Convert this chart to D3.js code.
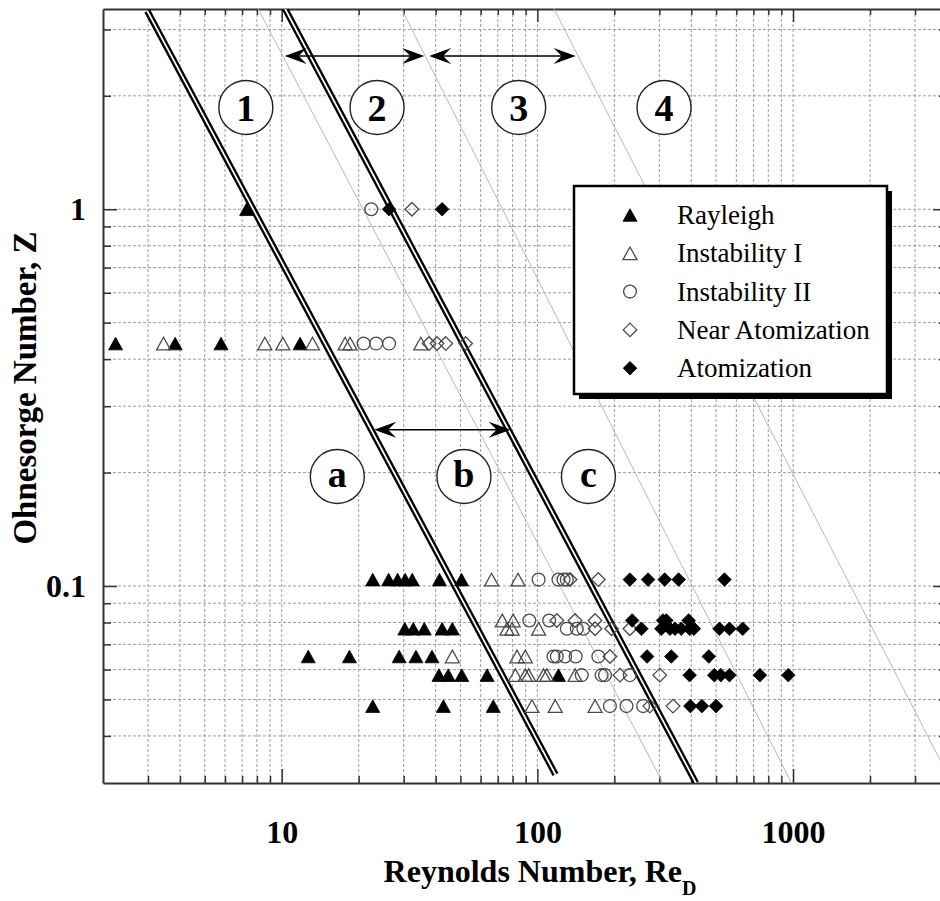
<!DOCTYPE html>
<html>
<head>
<meta charset="utf-8">
<script src="https://cdn.jsdelivr.net/npm/d3@7"></script>
<style>
  body { margin: 0; background: #fff; }
  svg { display: block; }
  text { font-family: "Liberation Serif", "Times New Roman", serif; }
</style>
</head>
<body>
<svg id="chart" width="940" height="901"></svg>
<script>
// ---- axis ranges ----
const reDomain = [2, 4000];
const zDomain = [0.03, 3.4];

// ---- observations: [Re_D, Z] ----
const rayleigh = [
  [7.29, 1.0],
  [2.24, 0.44], [3.83, 0.44], [5.79, 0.44], [11.8, 0.44],
  [22.7, 0.104], [26.2, 0.104], [28.4, 0.104], [30.4, 0.104], [32.4, 0.104], [41.4, 0.104], [50.5, 0.104],
  [30.3, 0.077], [32.7, 0.077], [36.1, 0.077], [42.4, 0.077], [46.5, 0.077],
  [12.7, 0.065], [18.4, 0.065], [28.8, 0.065], [33.5, 0.065], [38.7, 0.065],
  [41.2, 0.058], [44.8, 0.058], [50.6, 0.058], [63.6, 0.058], [120.9, 0.058],
  [22.7, 0.048], [42.9, 0.048], [67.2, 0.048]
];
const instabilityI = [
  [3.45, 0.44], [8.59, 0.44], [10.1, 0.44], [13.2, 0.44], [17.7, 0.44], [18.5, 0.44], [35.0, 0.44],
  [66.2, 0.104], [84.0, 0.104],
  [72.9, 0.081], [80.4, 0.081],
  [76.0, 0.077], [79.6, 0.077], [101.1, 0.077],
  [46.5, 0.065], [83.2, 0.065], [89.7, 0.065],
  [82.0, 0.058], [89.7, 0.058], [92.4, 0.058], [105.7, 0.058], [108.9, 0.058], [140.4, 0.058],
  [95.2, 0.048], [117.4, 0.048], [168.1, 0.048]
];
const instabilityII = [
  [22.4, 1.0],
  [20.9, 0.44], [23.4, 0.44], [26.3, 0.44],
  [101.1, 0.104], [120.9, 0.104], [126.5, 0.104], [130.3, 0.104],
  [93.0, 0.081], [111.2, 0.081],
  [130.3, 0.077], [142.6, 0.077], [151.3, 0.077],
  [115.6, 0.065], [119.1, 0.065], [128.4, 0.065], [141.2, 0.065], [173.1, 0.065],
  [149.1, 0.058], [178.3, 0.058], [183.8, 0.058], [230.0, 0.058],
  [192.2, 0.048], [223.1, 0.048], [259.1, 0.048]
];
const nearAtomization = [
  [32.3, 1.0],
  [37.7, 0.44], [40.5, 0.44], [43.8, 0.44], [52.4, 0.44],
  [134.3, 0.104], [173.1, 0.104],
  [119.1, 0.081], [140.4, 0.081], [168.1, 0.081],
  [168.1, 0.077], [195.1, 0.077], [230.0, 0.077],
  [192.2, 0.065],
  [210.3, 0.058], [301.0, 0.058],
  [275.2, 0.048], [339.2, 0.048]
];
const atomization = [
  [26.3, 1.0], [42.4, 1.0],
  [230.0, 0.104], [271.0, 0.104], [314.8, 0.104], [356.9, 0.104], [539.1, 0.104],
  [234.8, 0.081], [310.0, 0.081], [319.4, 0.081], [390.4, 0.081],
  [255.2, 0.077], [305.3, 0.077], [330.1, 0.077], [345.3, 0.077], [365.3, 0.077], [393.9, 0.077],
  [409.3, 0.077], [515.5, 0.077], [563.8, 0.077], [635.3, 0.077],
  [268.6, 0.065], [333.9, 0.065], [468.3, 0.065],
  [393.9, 0.058], [491.8, 0.058], [521.5, 0.058], [563.8, 0.058], [741.9, 0.058], [957.9, 0.058],
  [396.7, 0.048], [439.8, 0.048], [499.9, 0.048]
];

// ---- regime boundaries (end points as [Re_D, Z]) ----
const transitionLines = [
  [[2.98, 3.36], [117.7, 0.0316]],
  [[10.27, 3.42], [417, 0.030]]
];
const guideLines = [
  [[8.06, 3.42], [310, 0.030]],
  [[29.3, 3.42], [985, 0.030]],
  [[115.6, 3.42], [4180, 0.030]]
];

// ---- annotations ----
const regimeArrows = [
  { z: 2.55, from: 10.27, to: 36.1 },
  { z: 2.55, from: 37.7, to: 141.2 },
  { z: 0.26, from: 23.0, to: 78.6 }
];
const regimeLabels = [
  { label: "1", re: 7.24, z: 1.863 },
  { label: "2", re: 23.6, z: 1.863 },
  { label: "3", re: 84.5, z: 1.863 },
  { label: "4", re: 312.9, z: 1.863 },
  { label: "a", re: 16.5, z: 0.1953 },
  { label: "b", re: 51.6, z: 0.1953 },
  { label: "c", re: 158.3, z: 0.1953 }
];

const seriesList = [
  { name: "Rayleigh", data: rayleigh, shape: "tri", filled: true },
  { name: "Instability I", data: instabilityI, shape: "tri", filled: false },
  { name: "Instability II", data: instabilityII, shape: "circle", filled: false },
  { name: "Near Atomization", data: nearAtomization, shape: "diamond", filled: false },
  { name: "Atomization", data: atomization, shape: "diamond", filled: true }
];

// ---- scales ----
const plot = { left: 103, right: 947, top: 9, bottom: 783 };
const x = d3.scaleLog().domain(reDomain).range([plot.left, plot.right]);
const y = d3.scaleLog().domain(zDomain).range([plot.bottom, plot.top]);

const isMajor = d => Math.abs(Math.log10(d) - Math.round(Math.log10(d))) < 1e-9;
const xTicks = x.ticks().filter(d => d > reDomain[0] * 1.0001 && d < reDomain[1] * 0.9999);
const yTicks = y.ticks().filter(d => d > zDomain[0] * 1.0001 && d < zDomain[1] * 0.9999);

const svg = d3.select("#chart");
svg.append("rect").attr("width", 940).attr("height", 901).attr("fill", "#fff");

svg.append("defs").append("clipPath").attr("id", "plotClip")
  .append("rect")
  .attr("x", plot.left).attr("y", plot.top)
  .attr("width", plot.right - plot.left).attr("height", plot.bottom - plot.top);

// ---- grid ----
const grid = svg.append("g").attr("stroke", "#9d9d9d").attr("stroke-width", 1)
  .attr("stroke-dasharray", "3,2").attr("fill", "none");
grid.selectAll("line.vx").data(xTicks).join("line").attr("class", "vx")
  .attr("x1", d => x(d)).attr("x2", d => x(d))
  .attr("y1", plot.top).attr("y2", plot.bottom);
grid.selectAll("line.hy").data(yTicks).join("line").attr("class", "hy")
  .attr("y1", d => y(d)).attr("y2", d => y(d))
  .attr("x1", plot.left).attr("x2", plot.right);

// ---- axes ----
function styleAxis(g) {
  g.select(".domain").attr("stroke", "#333").attr("stroke-width", 2);
  g.selectAll(".tick line").attr("stroke", "#333").attr("stroke-width", 1.5);
  g.selectAll(".tick text").attr("font-family", "'Liberation Serif','Times New Roman',serif")
    .attr("font-weight", "bold").attr("font-size", 32).attr("fill", "#000");
}

const xFmt = d => isMajor(d) ? String(Math.round(d)) : "";
const yFmt = d => isMajor(d) ? d3.format("~g")(d) : "";

const gBottom = svg.append("g").attr("transform", `translate(0,${plot.bottom})`)
  .call(d3.axisBottom(x).tickValues(xTicks).tickSizeInner(-7).tickSizeOuter(0).tickPadding(37).tickFormat(xFmt));
gBottom.selectAll(".tick line").attr("y2", d => isMajor(d) ? -14 : -7);
styleAxis(gBottom);

const gTop = svg.append("g").attr("transform", `translate(0,${plot.top})`)
  .call(d3.axisTop(x).tickValues(xTicks).tickSizeInner(-6).tickSizeOuter(0).tickFormat(() => ""));
gTop.selectAll(".tick line").attr("y2", d => isMajor(d) ? 13 : 6);
styleAxis(gTop);

const gLeft = svg.append("g").attr("transform", `translate(${plot.left},0)`)
  .call(d3.axisLeft(y).tickValues(yTicks).tickSizeInner(-8).tickSizeOuter(0).tickPadding(17).tickFormat(yFmt));
gLeft.selectAll(".tick line").attr("x2", d => isMajor(d) ? 14 : 8);
styleAxis(gLeft);

const gRight = svg.append("g").attr("transform", `translate(${plot.right},0)`)
  .call(d3.axisRight(y).tickValues(yTicks).tickSizeInner(-8).tickSizeOuter(0).tickFormat(() => ""));
gRight.selectAll(".tick line").attr("x2", d => isMajor(d) ? -14 : -8);
styleAxis(gRight);

// ---- thin guide lines ----
const lineGen = d3.line().x(d => x(d[0])).y(d => y(d[1]));
const lines = svg.append("g").attr("clip-path", "url(#plotClip)");
lines.selectAll("path.guide").data(guideLines).join("path").attr("class", "guide")
  .attr("d", lineGen).attr("fill", "none").attr("stroke", "#b8b8b8").attr("stroke-width", 1);

// ---- markers ----
function markerPath(shape) {
  if (shape === "tri") return "M0,-6.3L7,6.3L-7,6.3Z";
  if (shape === "diamond") return "M0,-6.8L6.8,0L0,6.8L-6.8,0Z";
  return null;
}
function drawMarker(sel, s) {
  sel.each(function () {
    const g = d3.select(this);
    if (s.shape === "circle") {
      g.append("circle").attr("r", 6.4);
    } else {
      g.append("path").attr("d", markerPath(s.shape));
    }
    g.selectAll("circle,path")
      .attr("fill", s.filled ? "#000" : "none")
      .attr("stroke", s.filled ? "#000" : "#4a4a4a")
      .attr("stroke-width", s.filled ? 0.8 : 1.3);
  });
}

const pts = svg.append("g").attr("clip-path", "url(#plotClip)");
seriesList.forEach(s => {
  pts.append("g").selectAll("g").data(s.data).join("g")
    .attr("transform", d => `translate(${x(d[0])},${y(d[1])})`)
    .call(drawMarker, s);
});

// ---- transition (double) lines ----
lines.append("g").selectAll("path").data(transitionLines).join("path")
  .attr("d", lineGen).attr("fill", "none").attr("stroke", "#000").attr("stroke-width", 6.5);
lines.append("g").selectAll("path").data(transitionLines).join("path")
  .attr("d", lineGen).attr("fill", "none").attr("stroke", "#fff").attr("stroke-width", 1.8);

// ---- regime arrows ----
const head = "M0,0L-22,-8L-14,0L-22,8Z";
const arrows = svg.append("g");
regimeArrows.forEach(a => {
  const x0 = x(a.from), x1 = x(a.to), yy = y(a.z);
  arrows.append("line").attr("x1", x0 + 6).attr("x2", x1 - 6).attr("y1", yy).attr("y2", yy)
    .attr("stroke", "#000").attr("stroke-width", 1.5);
  arrows.append("path").attr("d", head).attr("fill", "#000")
    .attr("transform", `translate(${x1},${yy})`);
  arrows.append("path").attr("d", head).attr("fill", "#000")
    .attr("transform", `translate(${x0},${yy}) rotate(180)`);
});

// ---- circled regime labels ----
const lbl = svg.append("g").selectAll("g").data(regimeLabels).join("g")
  .attr("transform", d => `translate(${x(d.re)},${y(d.z)})`);
lbl.append("circle").attr("r", 27).attr("fill", "#fff").attr("stroke", "#222").attr("stroke-width", 1.4);
lbl.append("text").text(d => d.label)
  .attr("text-anchor", "middle")
  .attr("y", d => /[0-9]/.test(d.label) ? 13.5 : 11)
  .attr("font-weight", "bold").attr("font-size", 38).attr("fill", "#000");

// ---- legend ----
const legend = svg.append("g").attr("transform", "translate(574,186)");
legend.append("rect").attr("x", 5).attr("y", 5).attr("width", 313).attr("height", 208).attr("fill", "#000");
legend.append("rect").attr("width", 313).attr("height", 208).attr("fill", "#fff")
  .attr("stroke", "#000").attr("stroke-width", 2.5);
const rows = legend.selectAll("g.row").data(seriesList).join("g").attr("class", "row")
  .attr("transform", (d, i) => `translate(0,${29 + i * 38.3})`);
rows.each(function (s) {
  d3.select(this).append("g").attr("transform", "translate(56,0)").call(drawMarker, s);
});
rows.append("text").text(d => d.name).attr("x", 103).attr("y", 9)
  .attr("font-size", 27).attr("fill", "#000");

// ---- axis titles ----
const xTitle = svg.append("text").attr("x", 540).attr("y", 882).attr("text-anchor", "middle")
  .attr("font-weight", "bold").attr("font-size", 32).attr("fill", "#000");
xTitle.append("tspan").text("Reynolds Number, Re");
xTitle.append("tspan").text("D").attr("font-size", 20).attr("dy", 13);

svg.append("text").attr("transform", "translate(36,388) rotate(-90)").attr("text-anchor", "middle")
  .attr("font-weight", "bold").attr("font-size", 33).attr("fill", "#000")
  .text("Ohnesorge Number, Z");
</script>
</body>
</html>
